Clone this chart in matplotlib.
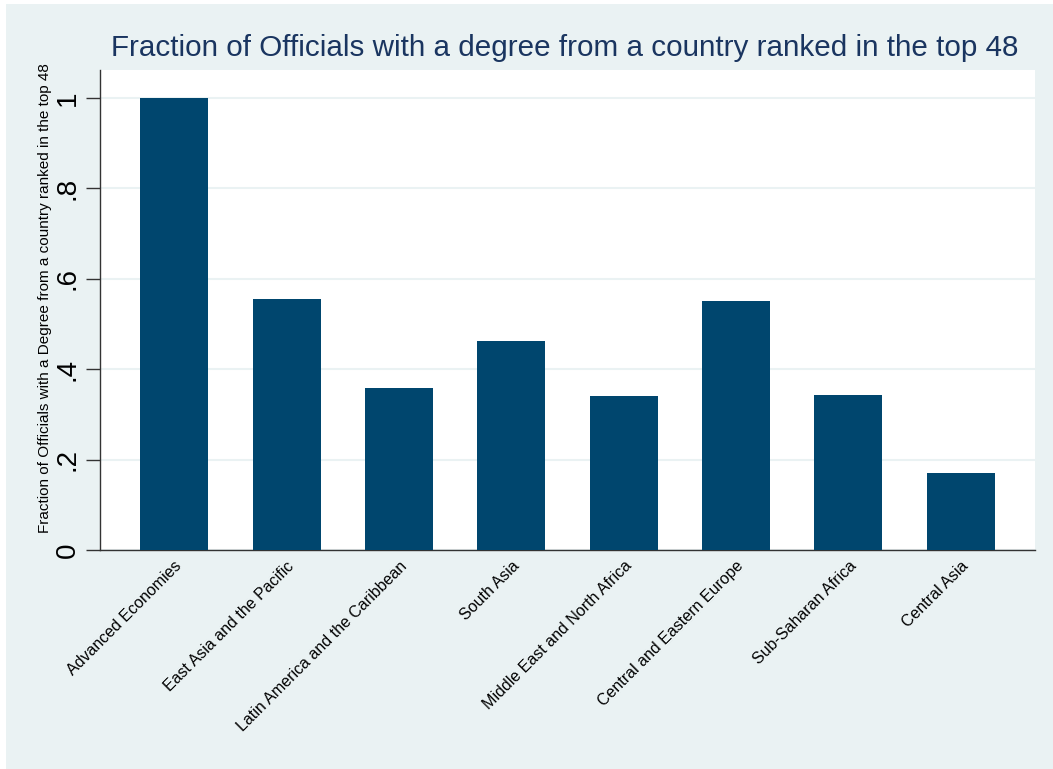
import matplotlib
matplotlib.use("Agg")
import matplotlib.pyplot as plt
from matplotlib.patches import Rectangle

categories = ["Advanced Economies", "East Asia and the Pacific", "Latin America and the Caribbean",
              "South Asia", "Middle East and North Africa", "Central and Eastern Europe",
              "Sub-Saharan Africa", "Central Asia"]
values = [1.0, 0.555, 0.358, 0.462, 0.341, 0.551, 0.343, 0.170]
yticks = [0, 0.2, 0.4, 0.6, 0.8, 1.0]
ytick_labels = ["0", ".2", ".4", ".6", ".8", "1"]

plt.rcParams['font.family'] = ['Liberation Sans', 'DejaVu Sans']

W, H = 1053, 769
fig = plt.figure(figsize=(W / 100, H / 100), dpi=100, facecolor="white")
fig.patches.append(Rectangle((6 / W, 0), 1 - 6 / W, (H - 4) / H, transform=fig.transFigure,
                             facecolor="#eaf2f3", edgecolor="none", zorder=-10))

ax = fig.add_axes([100 / W, (H - 550) / H, (1035 - 100) / W, (550 - 70) / H])
ax.set_zorder(1)
ax.set_facecolor("white")
x = list(range(len(categories)))
ax.bar(x, values, width=0.605, color="#00466e", zorder=3)
ax.set_xlim(-0.66, len(categories) - 1 + 0.66)
ax.set_ylim(0, 1.062)
ax.set_yticks(yticks)
ax.set_yticklabels(ytick_labels, rotation=90, va="center", fontsize=20)
ax.yaxis.grid(True, color="#eaf2f3", linewidth=1.5, zorder=0)
ax.set_axisbelow(True)
ax.set_xticks(x)
ax.set_xticklabels(categories, rotation=45, ha="right", rotation_mode="anchor", fontsize=11.5)
ax.tick_params(axis="x", length=0, pad=6)
ax.tick_params(axis="y", length=10, width=1, color="#333333", pad=4)
for s in ["top", "right"]:
    ax.spines[s].set_visible(False)
for s in ["left", "bottom"]:
    ax.spines[s].set_color("#333333")
    ax.spines[s].set_linewidth(1)
ax.set_ylabel("Fraction of Officials with a Degree from a country ranked in the top 48", fontsize=11)
ax.yaxis.set_label_coords(-48 / 935, 0.525)
fig.text(565 / W, 1 - 48 / H, "Fraction of Officials with a degree from a country ranked in the top 48",
         ha="center", va="center", fontsize=21.3, color="#1a3560")

fig.savefig("out.png", dpi=100, facecolor="white")
